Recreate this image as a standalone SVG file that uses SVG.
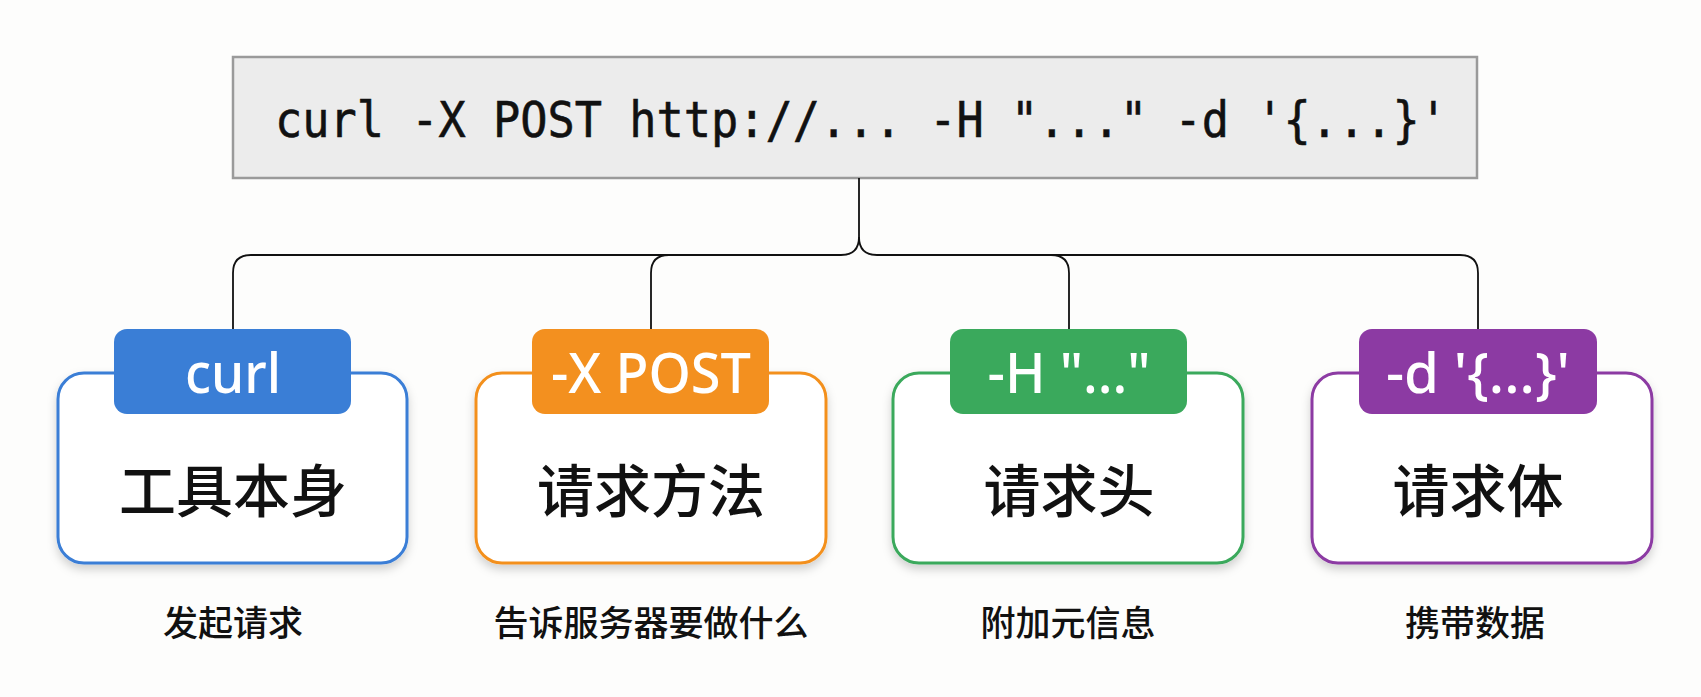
<svg xmlns="http://www.w3.org/2000/svg" width="1701" height="697" viewBox="0 0 1701 697">
<defs>
<filter id="sh" x="-10%" y="-10%" width="120%" height="130%">
<feDropShadow dx="0" dy="5" stdDeviation="5" flood-color="#000" flood-opacity="0.18"/>
</filter>
<style>
.conn{fill:none;stroke:#111;stroke-width:1.8}
.outer{fill:#fff;stroke-width:3}
.cmd{font-family:"DejaVu Sans Mono","Liberation Mono",monospace;font-size:50px;fill:#111;stroke:#111;stroke-width:0.6;text-anchor:middle}
.tabt{font-family:"Noto Sans","Open Sans","Liberation Sans",sans-serif;font-weight:500;font-size:56px;fill:#fff;text-anchor:middle}
.main{font-family:"Noto Sans CJK SC","Noto Sans",sans-serif;font-weight:500;font-size:57px;fill:#111;text-anchor:middle}
.sub{font-family:"Noto Sans CJK SC","Noto Sans",sans-serif;font-weight:500;font-size:35px;fill:#111;text-anchor:middle}
</style>
</defs>
<rect width="1701" height="697" fill="#fdfdfc"/>
<g id="command">
<rect x="233" y="57" width="1244" height="121" fill="#ececec" stroke="#9a9a9a" stroke-width="2.5"/>
<text class="cmd" x="861" y="137" textLength="1172" lengthAdjust="spacingAndGlyphs">curl -X POST http://... -H "..." -d '{...}'</text>
</g>
<g id="connectors">
<path class="conn" d="M859,178 V237 Q859,255 841,255 H251 Q233,255 233,273 V329"/>
<path class="conn" d="M859,237 Q859,255 877,255 H1460 Q1478,255 1478,273 V329"/>
<path class="conn" d="M669,255 Q651,255 651,273 V329"/>
<path class="conn" d="M1051,255 Q1069,255 1069,273 V329"/>
</g>
<g id="node-curl">
<rect class="outer" x="58" y="373" width="349" height="190" rx="26" stroke="#3a7ed6" filter="url(#sh)"/>
<rect x="114" y="329" width="237" height="85" rx="13" fill="#3a7ed6"/>
<text class="tabt" x="233" y="393" textLength="96" lengthAdjust="spacingAndGlyphs">curl</text>
<text class="main" x="233" y="512">工具本身</text>
<text class="sub" x="233" y="636">发起请求</text>
</g>
<g id="node-post">
<rect class="outer" x="476" y="373" width="350" height="190" rx="26" stroke="#f3901f" filter="url(#sh)"/>
<rect x="532" y="329" width="237" height="85" rx="13" fill="#f3901f"/>
<text class="tabt" x="651" y="393" textLength="200" lengthAdjust="spacingAndGlyphs">-X POST</text>
<text class="main" x="651" y="512">请求方法</text>
<text class="sub" x="651" y="636">告诉服务器要做什么</text>
</g>
<g id="node-header">
<rect class="outer" x="893" y="373" width="350" height="190" rx="26" stroke="#3aa95c" filter="url(#sh)"/>
<rect x="950" y="329" width="237" height="85" rx="13" fill="#3aa95c"/>
<text class="tabt" x="1069" y="393" textLength="163" lengthAdjust="spacingAndGlyphs">-H "..."</text>
<text class="main" x="1069" y="512">请求头</text>
<text class="sub" x="1068" y="636">附加元信息</text>
</g>
<g id="node-body">
<rect class="outer" x="1312" y="373" width="340" height="190" rx="26" stroke="#8c3aa3" filter="url(#sh)"/>
<rect x="1359" y="329" width="238" height="85" rx="13" fill="#8c3aa3"/>
<text class="tabt" x="1478" y="393" textLength="184" lengthAdjust="spacingAndGlyphs">-d '{...}'</text>
<text class="main" x="1478" y="512">请求体</text>
<text class="sub" x="1475" y="636">携带数据</text>
</g>
</svg>
